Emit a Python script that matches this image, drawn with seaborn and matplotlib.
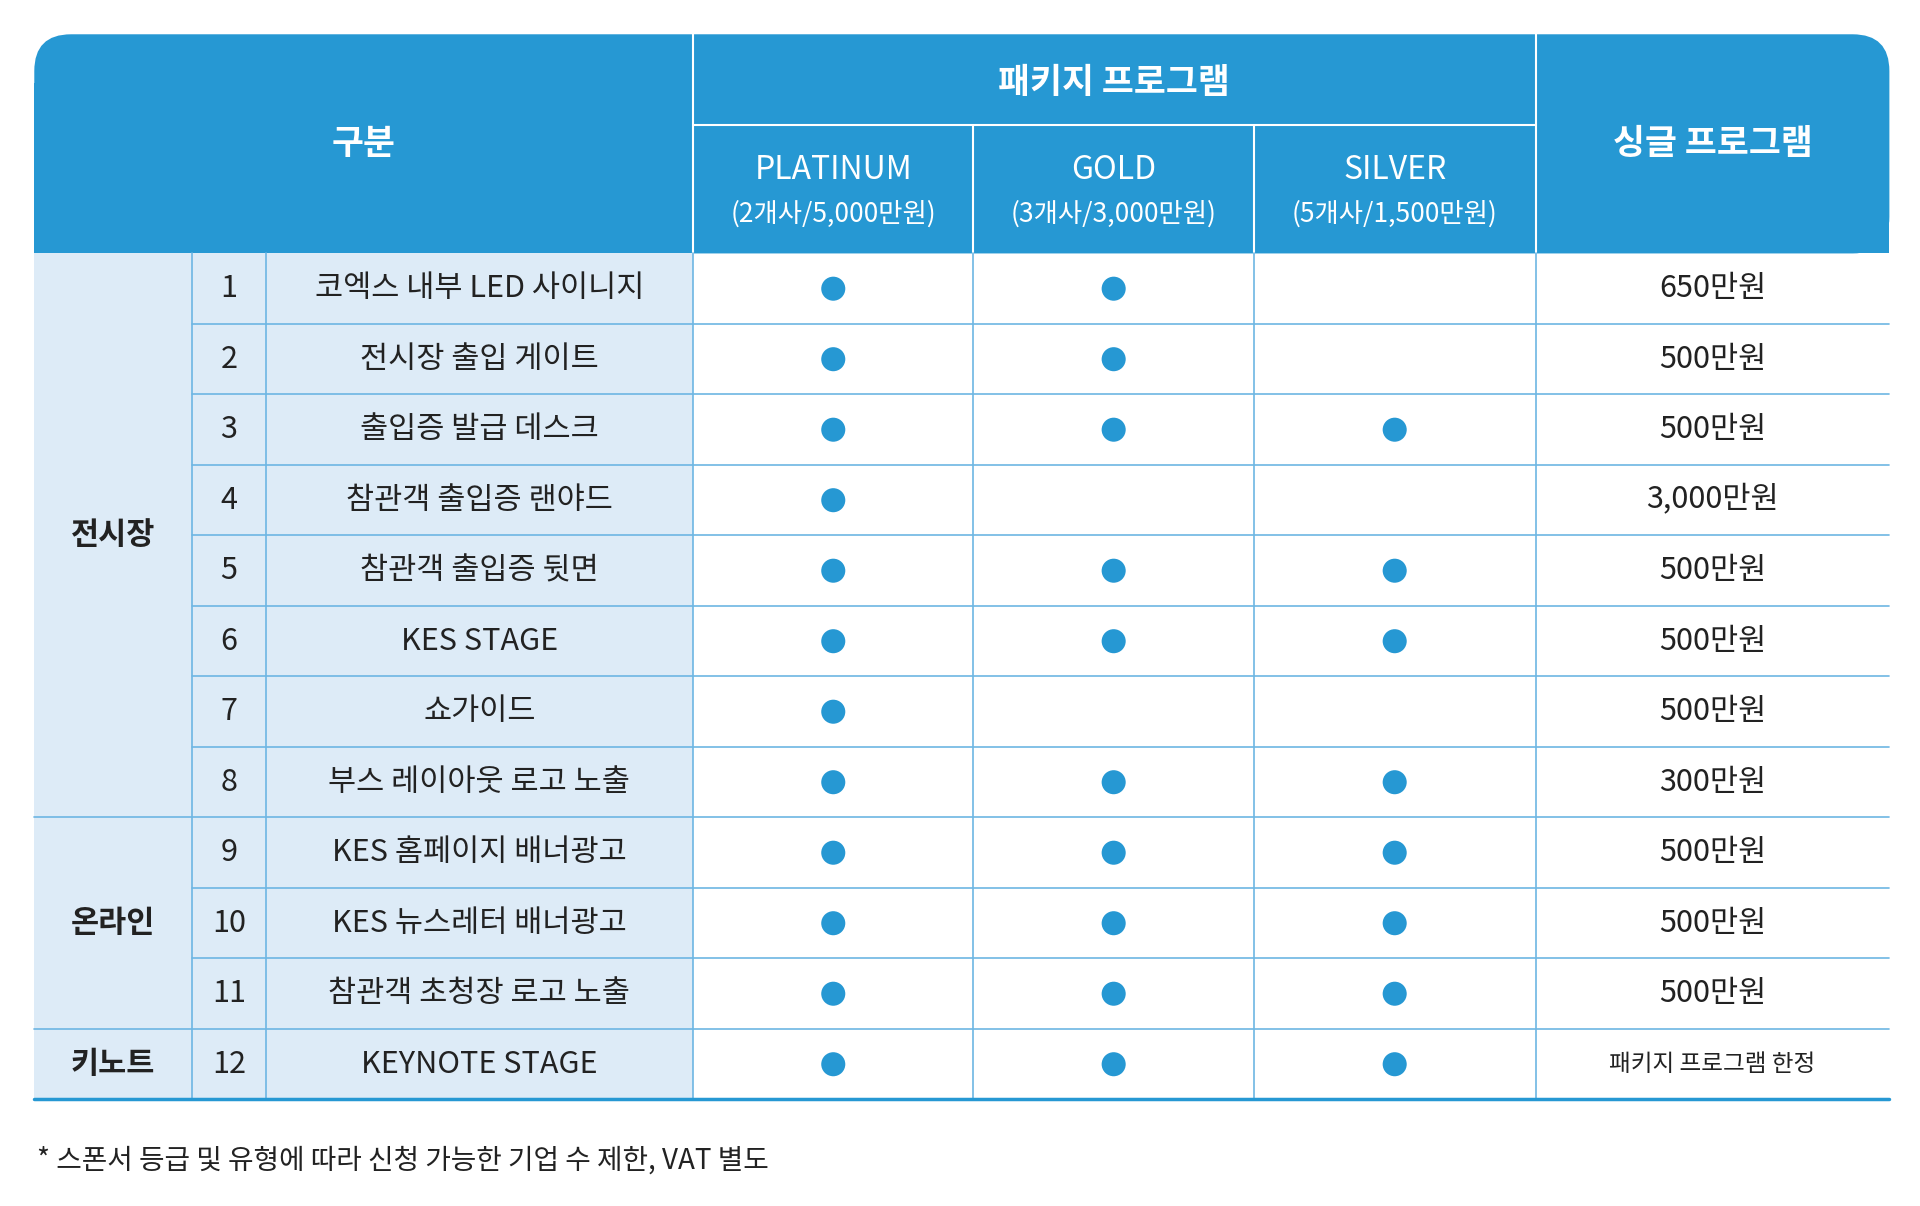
import matplotlib
matplotlib.use("Agg")
import matplotlib.pyplot as plt
import seaborn as sns
import pandas as pd
from matplotlib.patches import FancyBboxPatch, Rectangle

sns.set_theme(style="white")
plt.rcParams['font.family'] = ['Noto Sans CJK KR', 'DejaVu Sans']

# data
groups = [("전시장", 0, 8), ("온라인", 8, 11), ("키노트", 11, 12)]
numbers = [str(i) for i in range(1, 13)]
items = ["코엑스 내부 LED 사이니지", "전시장 출입 게이트", "출입증 발급 데스크", "참관객 출입증 랜야드",
         "참관객 출입증 뒷면", "KES STAGE", "쇼가이드", "부스 레이아웃 로고 노출",
         "KES 홈페이지 배너광고", "KES 뉴스레터 배너광고", "참관객 초청장 로고 노출", "KEYNOTE STAGE"]
platinum = [1, 1, 1, 1, 1, 1, 1, 1, 1, 1, 1, 1]
gold = [1, 1, 1, 0, 1, 1, 0, 1, 1, 1, 1, 1]
silver = [0, 0, 1, 0, 1, 1, 0, 1, 1, 1, 1, 1]
single = ["650만원", "500만원", "500만원", "3,000만원", "500만원", "500만원", "500만원",
          "300만원", "500만원", "500만원", "500만원", "패키지 프로그램 한정"]
packages = ["PLATINUM", "GOLD", "SILVER"]
package_sub = ["(2개사/5,000만원)", "(3개사/3,000만원)", "(5개사/1,500만원)"]

BLUE = "#2698D3"
LIGHT = "#DDEBF7"
LINE = "#6DB6E3"

# layout (display units)
W, H = 1568, 985
cx = [28, 157, 217, 566, 795, 1024, 1254, 1543]
top, hmid, hbot = 28, 102, 207
rh = (898 - hbot) / 12
def ry(i):
    return hbot + rh * i + rh / 2

fig = plt.figure(figsize=(19.2, 12.06), dpi=100)
ax = fig.add_axes([0, 0, 1, 1])
ax.set_xlim(0, W)
ax.set_ylim(H, 0)
ax.axis("off")

# header
ax.add_patch(FancyBboxPatch((cx[0], top), cx[-1] - cx[0], hbot - top,
                            boxstyle="round,pad=0,rounding_size=30", fc=BLUE, ec="none"))
ax.add_patch(Rectangle((cx[0], top + 40), cx[-1] - cx[0], hbot - top - 40, fc=BLUE, ec="none"))
for x in (cx[3], cx[6]):
    ax.plot([x, x], [top, hbot], color="white", lw=1.5)
for x in (cx[4], cx[5]):
    ax.plot([x, x], [hmid, hbot], color="white", lw=1.5)
ax.plot([cx[3], cx[6]], [hmid, hmid], color="white", lw=1.5)
hk = dict(color="white", ha="center", va="center", fontweight="bold")
ax.text((cx[0] + cx[3]) / 2, (top + hbot) / 2, "구분", fontsize=25, **hk)
ax.text((cx[3] + cx[6]) / 2, (top + hmid) / 2 + 2, "패키지 프로그램", fontsize=25, **hk)
ax.text((cx[6] + cx[7]) / 2, (top + hbot) / 2, "싱글 프로그램", fontsize=25, **hk)
for j, (p, sub) in enumerate(zip(packages, package_sub)):
    xc = (cx[3 + j] + cx[4 + j]) / 2
    ax.text(xc, 139, p, fontsize=23, color="white", ha="center", va="center")
    ax.text(xc, 175, sub, fontsize=19, color="white", ha="center", va="center")

# body background
ax.add_patch(Rectangle((cx[0], hbot), cx[3] - cx[0], 898 - hbot, fc=LIGHT, ec="none"))

# grid lines
for i in range(1, 12):
    y = hbot + rh * i
    start = cx[0] if any(i == g[1] for g in groups) else cx[1]
    ax.plot([start, cx[-1]], [y, y], color=LINE, lw=1.2)
for x in cx[1:7]:
    ax.plot([x, x], [hbot, 898], color=LINE, lw=1.2)
ax.plot([cx[0], cx[-1]], [898, 898], color=BLUE, lw=2.5)

tk = dict(color="#222222", ha="center", va="center")
for name, a, b in groups:
    ax.text((cx[0] + cx[1]) / 2, hbot + rh * (a + b) / 2, name, fontsize=22, fontweight="bold", **tk)
for i in range(12):
    ax.text((cx[1] + cx[2]) / 2, ry(i), numbers[i], fontsize=22, **tk)
    ax.text((cx[2] + cx[3]) / 2, ry(i), items[i], fontsize=22, fontweight="medium", **tk)
    ax.text((cx[6] + cx[7]) / 2, ry(i), single[i], fontsize=22 if i < 11 else 17, **tk)

# dots
rows = []
for j, flags in enumerate([platinum, gold, silver]):
    for i, f in enumerate(flags):
        if f:
            rows.append({"x": (cx[3 + j] + cx[4 + j]) / 2, "y": ry(i)})
df = pd.DataFrame(rows)
sns.scatterplot(data=df, x="x", y="y", ax=ax, color=BLUE, s=300, edgecolor="none", legend=False)
ax.set_xlim(0, W)
ax.set_ylim(H, 0)
ax.axis("off")

ax.text(30, 948, "* 스폰서 등급 및 유형에 따라 신청 가능한 기업 수 제한, VAT 별도", fontsize=20,
        color="#222222", ha="left", va="center")

fig.savefig("out.png", dpi=100, facecolor="white")
